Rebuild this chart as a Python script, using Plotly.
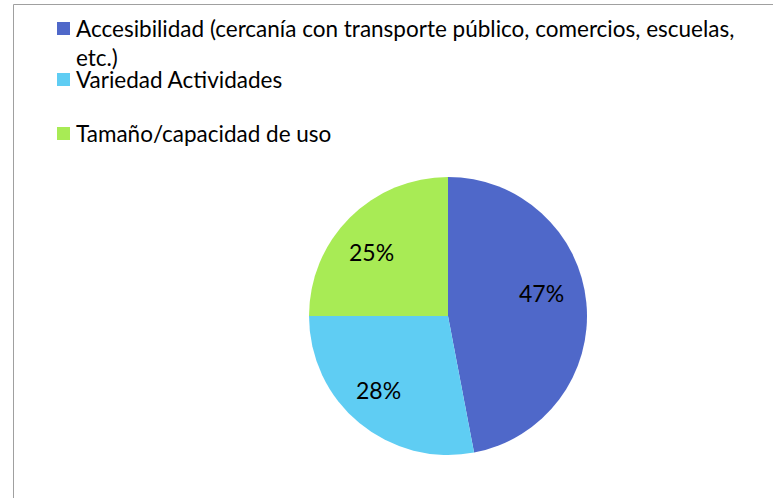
import math
import plotly.graph_objects as go

# Survey answers: main reason for choosing the space
labels = [
    "Accesibilidad (cercanía con transporte público, comercios, escuelas,<br>etc.)",
    "Variedad Actividades",
    "Tamaño/capacidad de uso",
]
values = [47, 28, 25]
colors = ["#4F68C9", "#5FCDF3", "#A8EB55"]

W, H = 773, 498

# Pie placement in pixels (centre and radius)
CX, CY, R = 448, 316, 139
# radial distance of the percentage labels and a small per-slice nudge (px)
LABEL_R = 100
label_nudge = [(-6, -14), (-6, -3), (-6, 7)]


def px(x):
    return x / W


def py(y):
    return 1 - y / H


fig = go.Figure(
    go.Pie(
        labels=labels,
        values=values,
        marker=dict(colors=colors, line=dict(width=0)),
        sort=False,
        direction="clockwise",
        rotation=0,
        textinfo="none",
        showlegend=False,
        hoverinfo="label+percent",
        domain=dict(x=[px(CX - R), px(CX + R)], y=[py(CY + R), py(CY - R)]),
    )
)

annotations = []

# Percentage labels placed along each slice's mid angle
total = sum(values)
cum = 0
for v, (nx, ny) in zip(values, label_nudge):
    mid = (cum + v / 2) / total * 2 * math.pi
    cum += v
    lx = CX + LABEL_R * math.sin(mid) + nx
    ly = CY - LABEL_R * math.cos(mid) + ny
    annotations.append(
        dict(
            text=f"{round(v / total * 100)}%", xref="paper", yref="paper",
            x=px(lx), y=py(ly), xanchor="center", yanchor="middle",
            showarrow=False,
            font=dict(family="Lato", size=23, color="#000000"),
        )
    )

# Hand-placed legend: colour squares with their labels
legend_tops = [22, 73, 127]
shapes = [
    dict(
        type="rect", xref="paper", yref="paper",
        x0=px(13.5), x1=1.05, y0=-0.1, y1=py(4.5),
        line=dict(color="#A0A0A0", width=1), fillcolor="rgba(0,0,0,0)",
    )
]
for lab, col, top in zip(labels, colors, legend_tops):
    shapes.append(
        dict(
            type="rect", xref="paper", yref="paper",
            x0=px(57), x1=px(70), y0=py(top + 13), y1=py(top),
            line=dict(width=0), fillcolor=col,
        )
    )
    annotations.append(
        dict(
            text=lab, xref="paper", yref="paper",
            x=px(74), y=py(top - 9), xanchor="left", yanchor="top",
            align="left", showarrow=False,
            font=dict(family="Lato", size=22.5, color="#000000"),
        )
    )

fig.update_layout(
    width=W,
    height=H,
    margin=dict(l=0, r=0, t=0, b=0),
    paper_bgcolor="#FFFFFF",
    plot_bgcolor="#FFFFFF",
    shapes=shapes,
    annotations=annotations,
)

fig.write_html("out.html")
